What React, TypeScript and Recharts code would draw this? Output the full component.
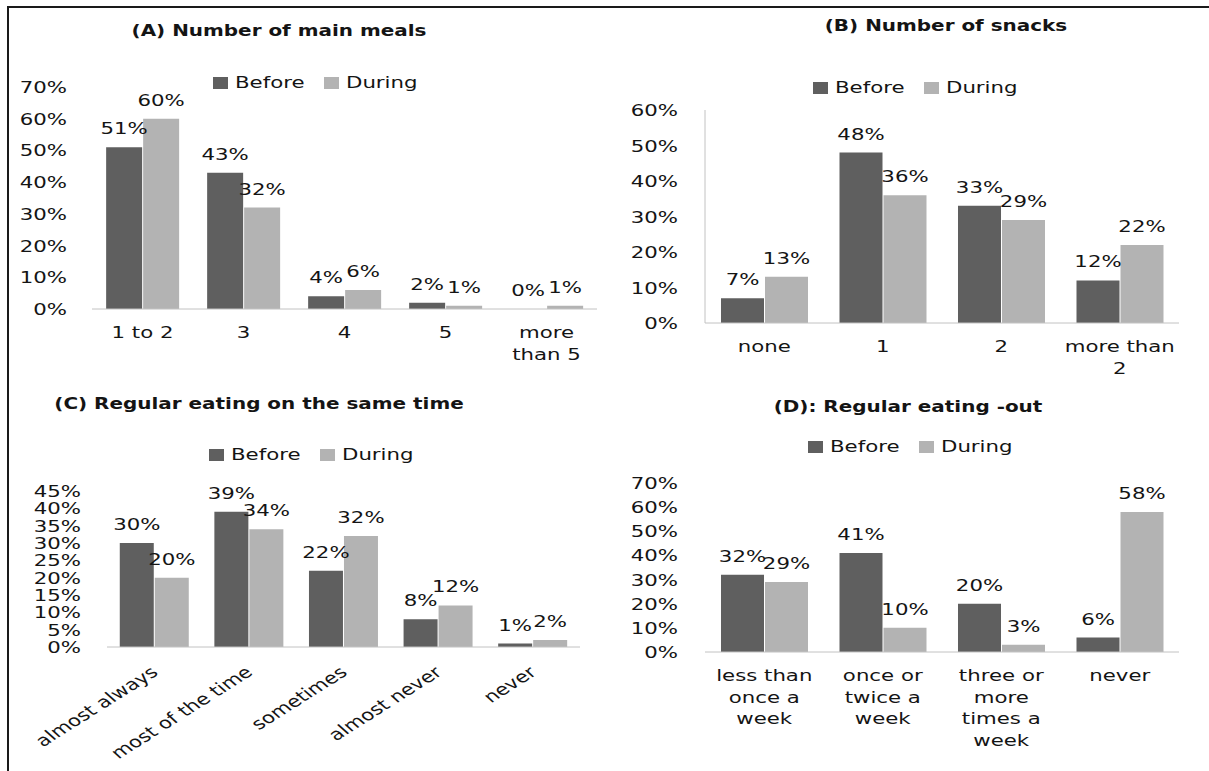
import React from 'react';
import { BarChart, Bar, XAxis, YAxis, LabelList } from 'recharts';

// (A) number of main meals
const mealCats = ['1 to 2', '3', '4', '5', 'more\nthan 5'];
const mealsBefore = [51, 43, 4, 2, 0];
const mealsDuring = [60, 32, 6, 1, 1];
const mealTicks = [0, 10, 20, 30, 40, 50, 60, 70];

// (B) number of snacks
const snackCats = ['none', '1', '2', 'more than\n2'];
const snacksBefore = [7, 48, 33, 12];
const snacksDuring = [13, 36, 29, 22];
const snackTicks = [0, 10, 20, 30, 40, 50, 60];

// (C) regular eating on the same time
const timeCats = ['almost always', 'most of the time', 'sometimes', 'almost never', 'never'];
const timeBefore = [30, 39, 22, 8, 1];
const timeDuring = [20, 34, 32, 12, 2];
const timeTicks = [0, 5, 10, 15, 20, 25, 30, 35, 40, 45];

// (D) regular eating out
const outCats = ['less than\nonce a\nweek', 'once or\ntwice a\nweek', 'three or\nmore\ntimes a\nweek', 'never'];
const outBefore = [32, 41, 20, 6];
const outDuring = [29, 10, 3, 58];
const outTicks = [0, 10, 20, 30, 40, 50, 60, 70];

const seriesNames = ['Before', 'During'];

const DARK = '#5f5f5f';
const LIGHT = '#b3b3b3';
const AXIS = '#c2c2c2';
const INK = '#141414';
const FONT = '"DejaVu Sans", Verdana, sans-serif';
const STRETCH = 1.33; // the text is drawn wide

const Stretched = ({ x, y, anchor, rotate = 0, children }: any) => (
  <g transform={`translate(${x},${y}) scale(${STRETCH},1)${rotate ? ` rotate(${rotate})` : ''}`}>
    <text x={0} y={0} textAnchor={anchor} fontFamily={FONT} fontSize={16} fill={INK}>
      {children}
    </text>
  </g>
);

const PctTick = (props: any) => (
  <Stretched x={props.x} y={props.y + 6} anchor="end">{`${props.payload.value}%`}</Stretched>
);

const WrapTick = (props: any) => {
  const lines = String(props.payload.value).split('\n');
  return (
    <g>
      {lines.map((line, i) => (
        <Stretched key={i} x={props.x} y={props.y + 29 + i * 21.7} anchor="middle">{line}</Stretched>
      ))}
    </g>
  );
};

const SlantTick = (props: any) => (
  <Stretched x={props.x + 5} y={props.y + 27} anchor="end" rotate={-40}>{props.payload.value}</Stretched>
);

const ValueLabel = (props: any) => {
  const { x, y, width, value } = props;
  return (
    <Stretched x={Number(x) + Number(width) / 2} y={Number(y) - 13} anchor="middle">{`${value}%`}</Stretched>
  );
};

// zero bars still need a rectangle so their "0%" label is placed
const keepZero = (value: number) => (value === 0 ? 0.01 : 0);

const KeyRow = ({ x, y }: { x: number; y: number }) => (
  <div style={{ position: 'absolute', left: x, top: y - 6, height: 12 }}>
    {seriesNames.map((name, i) => (
      <React.Fragment key={name}>
        <div style={{ position: 'absolute', left: i * 111, top: 0, width: 15, height: 12, background: i ? LIGHT : DARK }} />
        <span
          style={{
            position: 'absolute', left: i * 111 + 22, top: 0, lineHeight: '12px', fontSize: 16,
            fontFamily: FONT, color: INK, whiteSpace: 'nowrap',
            transform: `scaleX(${STRETCH})`, transformOrigin: '0 50%',
          }}
        >
          {name}
        </span>
      </React.Fragment>
    ))}
  </div>
);

const Title = ({ x, y, text }: { x: number; y: number; text: string }) => (
  <div
    style={{
      position: 'absolute', left: x, top: y, whiteSpace: 'nowrap', fontFamily: FONT, fontWeight: 'bold',
      fontSize: 15, lineHeight: '18px', color: INK, transform: `translate(-50%,-50%) scaleX(${STRETCH})`,
    }}
  >
    {text}
  </div>
);

interface PanelProps {
  box: [number, number, number, number]; // left, top, width, height
  plot: [number, number, number, number]; // x0, y0, x1, y1
  cats: string[];
  before: number[];
  during: number[];
  ticks: number[];
  labelGap: number;
  gap: string;
  yLine?: boolean;
  slanted?: boolean;
  title: string;
  titleAt: [number, number];
  keyAt: [number, number];
}

const Panel = ({ box, plot, cats, before, during, ticks, labelGap, gap, yLine, slanted, title, titleAt, keyAt }: PanelProps) => {
  const [left, top, width, height] = box;
  const [x0, y0, x1, y1] = plot;
  const data = cats.map((cat, i) => ({ cat, before: before[i], during: during[i] }));
  return (
    <>
      <Title x={titleAt[0]} y={titleAt[1]} text={title} />
      <KeyRow x={keyAt[0]} y={keyAt[1]} />
      <div style={{ position: 'absolute', left, top }}>
        <BarChart
          width={width}
          height={height}
          data={data}
          margin={{ top: y0 - top, right: left + width - x1, bottom: 0, left: 0 }}
          barCategoryGap={gap}
          barGap={1}
        >
          <XAxis
            dataKey="cat"
            height={top + height - y1}
            interval={0}
            tickLine={false}
            tickSize={0}
            tickMargin={0}
            axisLine={{ stroke: AXIS }}
            tick={slanted ? <SlantTick /> : <WrapTick />}
          />
          <YAxis
            width={x0 - left}
            domain={[0, ticks[ticks.length - 1]]}
            ticks={ticks}
            interval={0}
            tickLine={false}
            tickSize={0}
            tickMargin={labelGap}
            axisLine={yLine ? { stroke: AXIS } : false}
            tick={<PctTick />}
          />
          <Bar dataKey="before" fill={DARK} minPointSize={keepZero} isAnimationActive={false}>
            <LabelList dataKey="before" content={ValueLabel} />
          </Bar>
          <Bar dataKey="during" fill={LIGHT} minPointSize={keepZero} isAnimationActive={false}>
            <LabelList dataKey="during" content={ValueLabel} />
          </Bar>
        </BarChart>
      </div>
    </>
  );
};

export default function App() {
  return (
    <div style={{ position: 'absolute', left: 0, top: 0, width: 1209, height: 771, background: '#fff', overflow: 'hidden' }}>
      <div style={{ position: 'absolute', left: 7, top: 6, width: 1202, height: 2, background: '#1a1a1a' }} />
      <div style={{ position: 'absolute', left: 7, top: 6, width: 2, height: 765, background: '#1a1a1a' }} />

      <Panel
        box={[0, 0, 600, 380]}
        plot={[92, 87, 597, 309]}
        cats={mealCats}
        before={mealsBefore}
        during={mealsDuring}
        ticks={mealTicks}
        labelGap={25}
        gap="14%"
        title="(A) Number of main meals"
        titleAt={[279, 31]}
        keyAt={[213, 83]}
      />
      <Panel
        box={[600, 0, 609, 380]}
        plot={[705, 110, 1179, 323]}
        cats={snackCats}
        before={snacksBefore}
        during={snacksDuring}
        ticks={snackTicks}
        labelGap={27}
        gap="13.5%"
        yLine
        title="(B) Number of snacks"
        titleAt={[946, 26]}
        keyAt={[813, 88]}
      />
      <Panel
        box={[0, 380, 600, 391]}
        plot={[107, 491, 580, 647]}
        cats={timeCats}
        before={timeBefore}
        during={timeDuring}
        ticks={timeTicks}
        labelGap={26}
        gap="13.5%"
        slanted
        title="(C) Regular eating on the same time"
        titleAt={[259, 404]}
        keyAt={[209, 455]}
      />
      <Panel
        box={[600, 380, 609, 391]}
        plot={[705, 483, 1179, 652]}
        cats={outCats}
        before={outBefore}
        during={outDuring}
        ticks={outTicks}
        labelGap={27}
        gap="13.5%"
        title="(D): Regular eating -out"
        titleAt={[908, 407]}
        keyAt={[808, 447]}
      />
    </div>
  );
}
